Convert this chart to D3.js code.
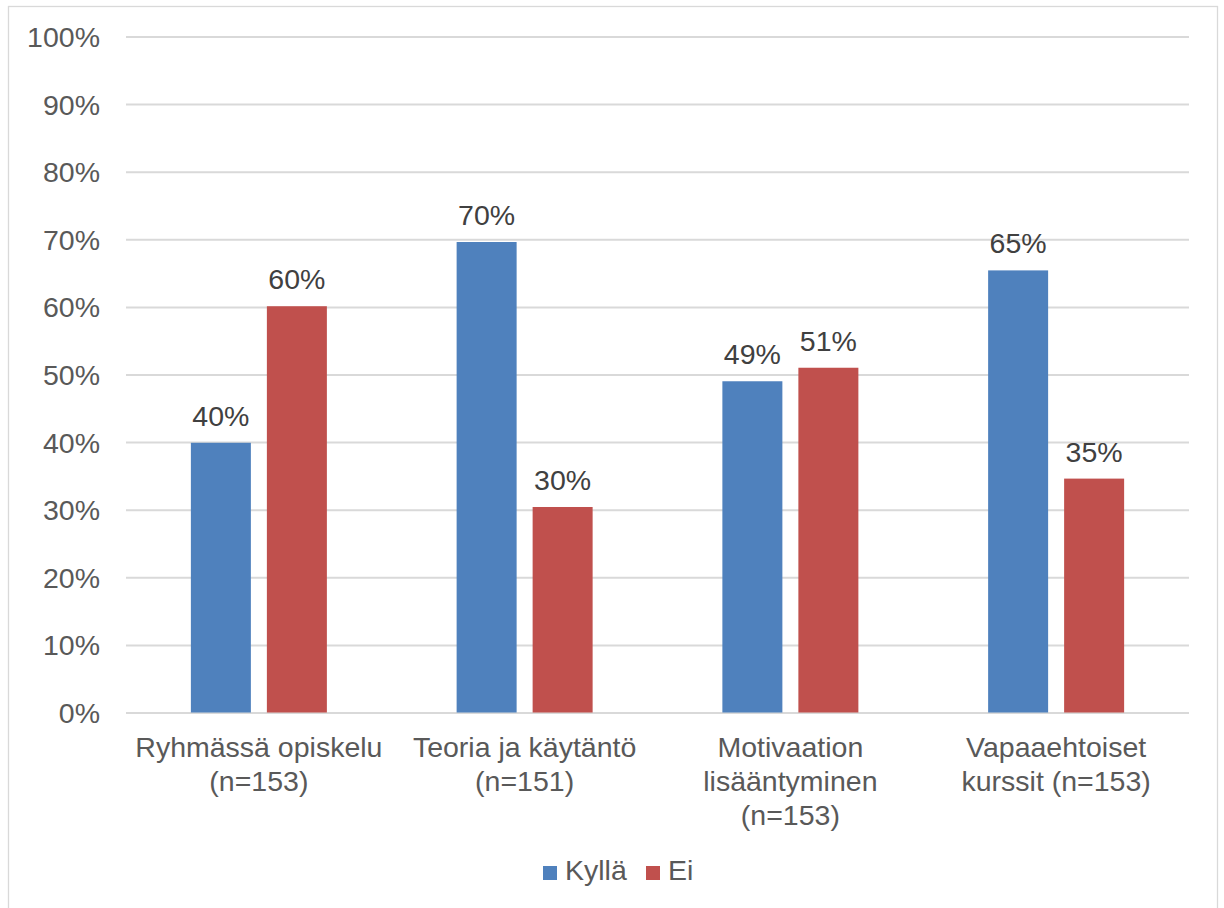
<!DOCTYPE html>
<html>
<head>
<meta charset="utf-8">
<script src="https://cdn.jsdelivr.net/npm/d3@7"></script>
<style>
  html, body { margin: 0; padding: 0; background: #fff; }
  svg text { font-family: "Liberation Sans", Arial, sans-serif; fill: #595959; }
</style>
</head>
<body>
<svg id="chart" width="1224" height="908"></svg>
<script>
const categories = [
  ["Ryhmässä opiskelu", "(n=153)"],
  ["Teoria ja käytäntö", "(n=151)"],
  ["Motivaation", "lisääntyminen", "(n=153)"],
  ["Vapaaehtoiset", "kurssit (n=153)"]
];
const seriesNames = ["Kyllä", "Ei"];
const kylla = [39.9, 69.6, 49.0, 65.4];
const ei = [60.1, 30.4, 51.0, 34.6];
const yTicks = [0, 10, 20, 30, 40, 50, 60, 70, 80, 90, 100];
const colors = ["#4F81BD", "#C0504D"];

const svg = d3.select("#chart");
const fontSize = 28.5;

// outer border
svg.append("rect")
  .attr("x", 8.5).attr("y", 6.5)
  .attr("width", 1209).attr("height", 910)
  .attr("fill", "none").attr("stroke", "#D9D9D9").attr("stroke-width", 1.3);

const plotLeft = 126, plotRight = 1189, plotTop = 36.5, plotBottom = 712.5;

const y = d3.scaleLinear().domain([0, 100]).range([plotBottom, plotTop]);
const catIdx = categories.map((d, i) => i);
const x0 = d3.scaleBand().domain(catIdx).range([plotLeft, plotRight]).paddingInner(0).paddingOuter(0);
const groupW = 136;
const x1 = d3.scaleBand().domain(seriesNames).range([0, groupW]).paddingInner(16 / 76).paddingOuter(0);

// gridlines via axis
const yAxis = d3.axisLeft(y).tickValues(yTicks).tickSize(-(plotRight - plotLeft)).tickPadding(26).tickFormat(d => d + "%");
const gAxis = svg.append("g").attr("transform", `translate(${plotLeft},0)`).call(yAxis);
gAxis.select(".domain").remove();
gAxis.selectAll(".tick line").attr("stroke", "#D9D9D9").attr("stroke-width", 2);
gAxis.selectAll(".tick text")
  .attr("font-size", fontSize)
  .attr("font-family", "Liberation Sans, Arial, sans-serif")
  .attr("fill", "#595959")
  .attr("dy", "0.35em");

// bars
const data = seriesNames.map((s, si) => ({ name: s, values: si === 0 ? kylla : ei, color: colors[si] }));
const groups = svg.append("g");
data.forEach(ser => {
  ser.values.forEach((v, ci) => {
    const gx = x0(ci) + (x0.bandwidth() - groupW) / 2 + x1(ser.name);
    groups.append("rect")
      .attr("x", gx)
      .attr("y", y(v))
      .attr("width", x1.bandwidth())
      .attr("height", y(0) - y(v))
      .attr("fill", ser.color);
    groups.append("text")
      .attr("x", gx + x1.bandwidth() / 2)
      .attr("y", y(v) - 17)
      .attr("text-anchor", "middle")
      .attr("font-size", fontSize)
      .style("fill", "#404040")
      .text(Math.round(v) + "%");
  });
});

// category labels
const xAxisG = svg.append("g");
categories.forEach((lines, ci) => {
  const t = xAxisG.append("text")
    .attr("x", x0(ci) + x0.bandwidth() / 2)
    .attr("y", 757)
    .attr("text-anchor", "middle")
    .attr("font-size", fontSize);
  lines.forEach((ln, li) => {
    t.append("tspan")
      .attr("x", x0(ci) + x0.bandwidth() / 2)
      .attr("dy", li === 0 ? 0 : 34)
      .text(ln);
  });
});

// legend
const legendItems = [{ x: 543 }, { x: 646 }];
const lg = svg.append("g");
seriesNames.forEach((s, i) => {
  lg.append("rect")
    .attr("x", legendItems[i].x).attr("y", 866)
    .attr("width", 14).attr("height", 14)
    .attr("fill", colors[i]);
  lg.append("text")
    .attr("x", legendItems[i].x + 22)
    .attr("y", 880)
    .attr("font-size", fontSize)
    .text(s);
});
</script>
</body>
</html>
